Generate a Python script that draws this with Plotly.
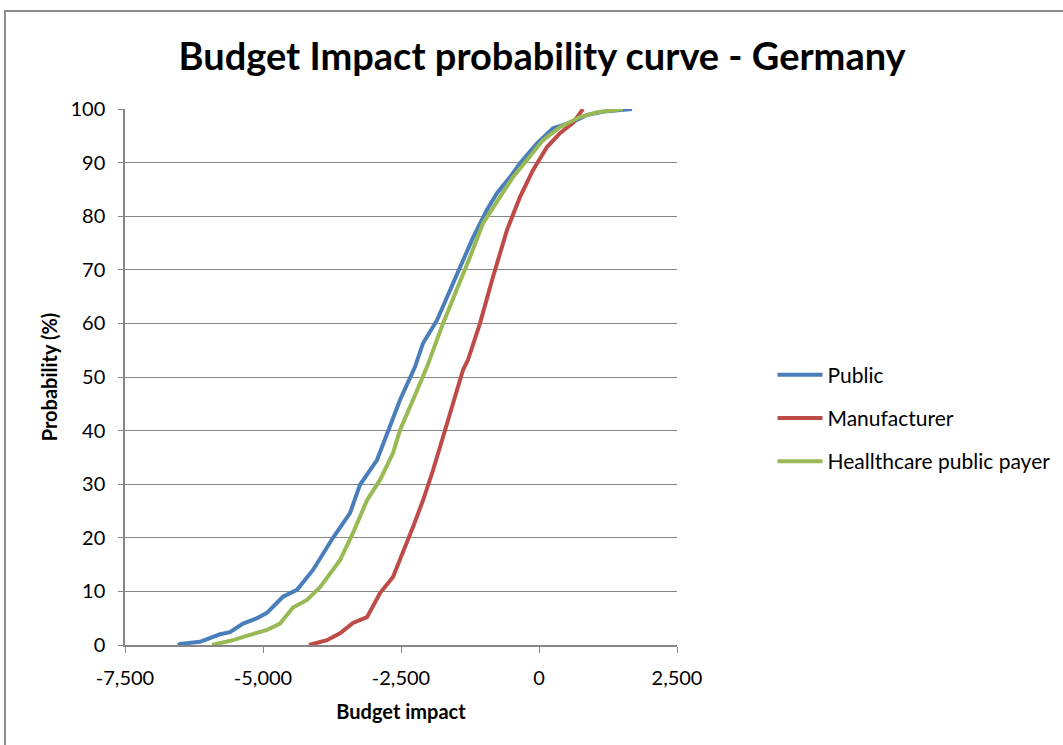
import plotly.graph_objects as go

# Cumulative probability (%) against budget impact for each perspective
public_impact = [-6540, -6504, -6141, -5779, -5598, -5362, -5109, -4928, -4638, -4384, -4094,
                 -3732, -3424, -3243, -2935, -2699, -2518, -2246, -2101, -1848, -1667, -1431,
                 -1196, -942, -761, -525, -344, -36, 254, 616, 870, 1232, 1685]
public_prob = [0, 0.2, 0.6, 2, 2.4, 4, 5, 6, 9, 10.3, 14,
               20, 24.6, 29.9, 34.5, 40.7, 45.7, 51.9, 56.3, 60.6, 65, 70.5,
               76, 81.2, 84.3, 87.3, 89.9, 93.6, 96.4, 97.6, 98.9, 99.6, 100]

manufacturer_impact = [-4167, -3841, -3605, -3370, -3116, -2880, -2645, -2518, -2283, -2101,
                       -1920, -1739, -1558, -1377, -1286, -1069, -833, -580, -344, -109,
                       145, 380, 616, 743, 797]
manufacturer_prob = [0, 0.9, 2.2, 4.1, 5.2, 9.7, 12.7, 15.9, 22, 27,
                     32.6, 38.8, 45.1, 51.3, 53.2, 60, 68.7, 77.4, 83.6, 88.6,
                     92.9, 95.5, 97.4, 99.2, 100]

payer_impact = [-5924, -5543, -5236, -4928, -4692, -4457, -4203, -3967, -3605, -3370,
                -3116, -2880, -2645, -2518, -2283, -2029, -1739, -1486, -1250, -1014,
                -707, -471, -217, 72, 380, 743, 1051, 1522]
payer_prob = [0, 0.9, 1.9, 2.8, 4, 7, 8.4, 10.8, 15.8, 20.9,
              27, 30.8, 35.8, 40.1, 45.7, 51.9, 60, 66.2, 72.4, 78.7,
              83.6, 87.3, 90.5, 94.2, 96.6, 98.5, 99.4, 100]

x_ticks = [-7500, -5000, -2500, 0, 2500]
x_tick_labels = ["-7,500", "-5,000", "-2,500", "0", "2,500"]
y_ticks = [0, 10, 20, 30, 40, 50, 60, 70, 80, 90, 100]

FONT = "Lato"
series = [
    ("Public", public_impact, public_prob, "#4a7ebb"),
    ("Manufacturer", manufacturer_impact, manufacturer_prob, "#be4b48"),
    ("Heallthcare public payer", payer_impact, payer_prob, "#98b954"),
]

fig = go.Figure()
for i, (name, xs, ys, color) in enumerate(series):
    fig.add_trace(go.Scatter(
        x=xs, y=ys, mode="lines", name=name, legendgroup=f"g{i}",
        line=dict(color=color, width=4),
    ))

axis_grey = "#868686"
fig.update_layout(
    width=1063, height=745,
    margin=dict(l=125, r=386, t=109, b=100, autoexpand=False),
    paper_bgcolor="white", plot_bgcolor="white",
    font=dict(family=FONT, color="#000000", size=20),
    title=dict(text="<b>Budget Impact probability curve - Germany</b>",
               font=dict(family=FONT, size=38, color="#000000"),
               x=0.51, xref="container", xanchor="center",
               y=0.9235, yref="container", yanchor="middle"),
    showlegend=True,
    legend=dict(x=1.173, xanchor="left", y=0.4235, yanchor="middle",
                font=dict(family=FONT, size=21, color="#000000"),
                tracegroupgap=13, traceorder="grouped", itemwidth=45,
                bgcolor="rgba(0,0,0,0)"),
    xaxis=dict(range=[-7500, 2500], tickvals=x_ticks, ticktext=x_tick_labels,
               showgrid=False, zeroline=False,
               showline=True, linecolor=axis_grey, linewidth=1.5,
               ticks="outside", ticklen=6, tickcolor=axis_grey,
               tickfont=dict(size=20), ticklabelstandoff=8,
               title=dict(text="<b>Budget impact</b>", font=dict(size=20), standoff=17)),
    yaxis=dict(range=[0, 100], tickvals=y_ticks,
               showgrid=True, gridcolor=axis_grey, gridwidth=1,
               zeroline=False,
               showline=True, linecolor=axis_grey, linewidth=1.5,
               ticks="outside", ticklen=5, tickcolor=axis_grey,
               tickfont=dict(size=20), ticklabelstandoff=9,
               title=dict(text="<b>Probability (%)</b>", font=dict(size=20), standoff=7)),
)

# Chart frame
fig.add_shape(type="rect", xref="paper", yref="paper",
              x0=-0.2174, x1=1.72, y0=-0.2, y1=1.1828,
              line=dict(color="#8c8c8c", width=2), fillcolor="rgba(0,0,0,0)", layer="below")

fig.write_html("out.html")
